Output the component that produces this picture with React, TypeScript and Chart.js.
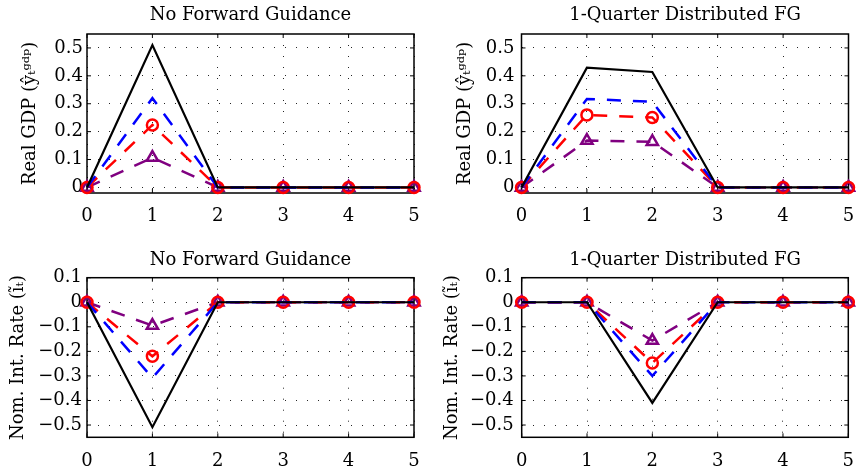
import React, { useEffect, useRef } from "react";
import { Chart, registerables } from "chart.js";

Chart.register(...registerables);

// ---------- data ----------
const periods = [0, 1, 2, 3, 4, 5];
const xTicks = [0, 1, 2, 3, 4, 5];
const xTickLabels = ["0", "1", "2", "3", "4", "5"];

const gdpTicks = [0, 0.1, 0.2, 0.3, 0.4, 0.5];
const gdpTickLabels = ["0", "0.1", "0.2", "0.3", "0.4", "0.5"];
const rateTicks = [-0.5, -0.4, -0.3, -0.2, -0.1, 0, 0.1];
const rateTickLabels = ["\u22120.5", "\u22120.4", "\u22120.3", "\u22120.2", "\u22120.1", "0", "0.1"];

const titleNoFG = "No Forward Guidance";
const titleFG = "1-Quarter Distributed FG";
const gdpAxisLabel = "Real GDP (\u0177\u209C\u1D4D\u1D48\u1D56)";
const rateAxisLabel = "Nom. Int. Rate (\u0129\u209C)";

// Real GDP, no forward guidance
const gdpNoFGBlack = [0, 0.51, 0, 0, 0, 0];
const gdpNoFGBlue = [0, 0.32, 0, 0, 0, 0];
const gdpNoFGRed = [0, 0.224, 0, 0, 0, 0];
const gdpNoFGPurple = [0, 0.107, 0, 0, 0, 0];

// Real GDP, 1-quarter distributed FG
const gdpFGBlack = [0, 0.429, 0.414, 0, 0, 0];
const gdpFGBlue = [0, 0.317, 0.307, 0, 0, 0];
const gdpFGRed = [0, 0.26, 0.251, 0, 0, 0];
const gdpFGPurple = [0, 0.168, 0.164, 0, 0, 0];

// Nominal interest rate, no forward guidance
const rateNoFGBlack = [0, -0.509, 0, 0, 0, 0];
const rateNoFGBlue = [0, -0.308, 0, 0, 0, 0];
const rateNoFGRed = [0, -0.22, 0, 0, 0, 0];
const rateNoFGPurple = [0, -0.095, 0, 0, 0, 0];

// Nominal interest rate, 1-quarter distributed FG
const rateFGBlack = [0, 0, -0.41, 0, 0, 0];
const rateFGBlue = [0, 0, -0.3, 0, 0, 0];
const rateFGRed = [0, 0, -0.247, 0, 0, 0];
const rateFGPurple = [0, 0, -0.156, 0, 0, 0];

// ---------- styling ----------
const FONT_FAMILY = "'DejaVu Serif', serif";
const FONT_SIZE = 18;

const boxPlugin = {
  id: "matlabBox",
  beforeDatasetsDraw(chart: any) {
    const { ctx, chartArea: a, scales } = chart;
    ctx.save();
    ctx.setLineDash([]);
    ctx.strokeStyle = "#000";
    ctx.lineWidth = 1.5;
    ctx.strokeRect(a.left, a.top, a.right - a.left, a.bottom - a.top);
    const tl = 4;
    ctx.lineWidth = 1;
    ctx.beginPath();
    scales.x.ticks.forEach((t: any) => {
      const px = scales.x.getPixelForValue(t.value);
      ctx.moveTo(px, a.bottom);
      ctx.lineTo(px, a.bottom - tl);
      ctx.moveTo(px, a.top);
      ctx.lineTo(px, a.top + tl);
    });
    scales.y.ticks.forEach((t: any) => {
      const py = scales.y.getPixelForValue(t.value);
      ctx.moveTo(a.left, py);
      ctx.lineTo(a.left + tl, py);
      ctx.moveTo(a.right, py);
      ctx.lineTo(a.right - tl, py);
    });
    ctx.stroke();
    ctx.restore();
  },
};

type PanelProps = {
  left: number;
  top: number;
  height: number;
  plot: { left: number; top: number; right: number; bottom: number };
  titlePadTop: number;
  yTitleCenter: number;
  yTickPad: number;
  title: string;
  yLabel: string;
  yMin: number;
  yMax: number;
  yTicks: number[];
  yTickLabels: string[];
  black: number[];
  blue: number[];
  red: number[];
  purple: number[];
};

function toPoints(vals: number[]) {
  return periods.map((p, i) => ({ x: p, y: vals[i] }));
}

function Panel(props: PanelProps) {
  const ref = useRef<HTMLCanvasElement>(null);
  const { plot } = props;
  // canvas wide enough that the full-width title is centred over the plot area
  const width = Math.round(plot.left + plot.right);
  useEffect(() => {
    const font = { family: FONT_FAMILY, size: FONT_SIZE, weight: "normal" as const };
    const lineH = FONT_SIZE * 1.2;
    const xh = props.height - plot.bottom;
    const dash = [14, 12];
    const chart = new Chart(ref.current as HTMLCanvasElement, {
      type: "line",
      data: {
        datasets: [
          {
            data: toPoints(props.black),
            borderColor: "#000000",
            borderWidth: 2.2,
            pointRadius: 0,
            clip: false as any,
          },
          {
            data: toPoints(props.blue),
            borderColor: "#0000ff",
            borderWidth: 2.5,
            borderDash: dash,
            pointRadius: 0,
            clip: false as any,
          },
          {
            data: toPoints(props.red),
            borderColor: "#ff0000",
            borderWidth: 2.5,
            borderDash: dash,
            pointStyle: "circle",
            pointRadius: 5.5,
            pointBorderWidth: 2.5,
            pointBorderColor: "#ff0000",
            pointBackgroundColor: "rgba(0,0,0,0)",
            clip: false as any,
          },
          {
            data: toPoints(props.purple),
            borderColor: "#800080",
            borderWidth: 2.5,
            borderDash: dash,
            pointStyle: "triangle",
            pointRadius: 6.5,
            pointBorderWidth: 2.5,
            pointBorderColor: "#800080",
            pointBackgroundColor: "rgba(0,0,0,0)",
            clip: false as any,
          },
        ],
      },
      options: {
        responsive: false,
        animation: false,
        events: [],
        layout: {
          padding: { left: 0, right: 0, top: 0, bottom: 0 },
        },
        plugins: {
          legend: { display: false },
          tooltip: { enabled: false },
          title: {
            display: true,
            text: props.title,
            color: "#000",
            font,
            padding: {
              top: props.titlePadTop,
              bottom: plot.top - lineH - props.titlePadTop,
            },
          },
        },
        scales: {
          x: {
            type: "linear",
            min: 0,
            max: 5,
            afterBuildTicks: (s: any) => {
              s.ticks = xTicks.map((v) => ({ value: v }));
            },
            afterFit: (s: any) => {
              s.height = xh;
            },
            ticks: {
              color: "#000",
              font,
              padding: 13,
              maxRotation: 0,
              autoSkip: false,
              callback: (v: any) => xTickLabels[xTicks.indexOf(Number(v))] ?? "",
            },
            grid: { color: "rgba(0,0,0,0.85)", lineWidth: 1, drawTicks: false },
            border: { display: false, dash: [1, 10] },
          },
          y: {
            type: "linear",
            position: "left",
            min: props.yMin,
            max: props.yMax,
            afterBuildTicks: (s: any) => {
              s.ticks = props.yTicks.map((v) => ({ value: v }));
            },
            afterFit: (s: any) => {
              s.width = plot.left;
            },
            title: {
              display: true,
              text: props.yLabel,
              color: "#000",
              font,
              padding: { top: props.yTitleCenter - lineH / 2, bottom: 0 },
            },
            ticks: {
              color: "#000",
              font,
              padding: props.yTickPad,
              autoSkip: false,
              callback: (v: any) => {
                const i = props.yTicks.findIndex((t) => Math.abs(t - Number(v)) < 1e-9);
                return i >= 0 ? props.yTickLabels[i] : "";
              },
            },
            grid: { color: "rgba(0,0,0,0.85)", lineWidth: 1, drawTicks: false },
            border: { display: false, dash: [1, 10] },
          },
          // empty spacer on the right so the plot area sits where it should
          spacer: {
            type: "linear",
            position: "right",
            min: props.yMin,
            max: props.yMax,
            afterFit: (s: any) => {
              s.width = width - plot.right;
            },
            ticks: { display: false },
            grid: { display: false, drawTicks: false },
            border: { display: false },
          },
        },
      } as any,
      plugins: [boxPlugin],
    });
    return () => chart.destroy();
  }, []);
  return (
    <canvas
      ref={ref}
      width={width}
      height={props.height}
      style={{
        position: "absolute",
        left: props.left,
        top: props.top,
        width: width,
        height: props.height,
      }}
    />
  );
}

export default function App() {
  return (
    <div
      style={{
        position: "absolute",
        left: 0,
        top: 0,
        width: 856,
        height: 467,
        background: "#fff",
        overflow: "hidden",
      }}
    >
      <Panel
        left={0}
        top={0}
        height={233}
        plot={{ left: 87, top: 34, right: 414, bottom: 193 }}
        titlePadTop={5}
        yTitleCenter={30}
        yTickPad={4}
        title={titleNoFG}
        yLabel={gdpAxisLabel}
        yMin={-0.02}
        yMax={0.55}
        yTicks={gdpTicks}
        yTickLabels={gdpTickLabels}
        black={gdpNoFGBlack}
        blue={gdpNoFGBlue}
        red={gdpNoFGRed}
        purple={gdpNoFGPurple}
      />
      <Panel
        left={434}
        top={0}
        height={233}
        plot={{ left: 87.5, top: 34, right: 414.5, bottom: 193 }}
        titlePadTop={5}
        yTitleCenter={31}
        yTickPad={7}
        title={titleFG}
        yLabel={gdpAxisLabel}
        yMin={-0.02}
        yMax={0.55}
        yTicks={gdpTicks}
        yTickLabels={gdpTickLabels}
        black={gdpFGBlack}
        blue={gdpFGBlue}
        red={gdpFGRed}
        purple={gdpFGPurple}
      />
      <Panel
        left={0}
        top={233}
        height={234}
        plot={{ left: 87, top: 44.7, right: 414, bottom: 204.3 }}
        titlePadTop={16.5}
        yTitleCenter={18}
        yTickPad={5}
        title={titleNoFG}
        yLabel={rateAxisLabel}
        yMin={-0.55}
        yMax={0.1}
        yTicks={rateTicks}
        yTickLabels={rateTickLabels}
        black={rateNoFGBlack}
        blue={rateNoFGBlue}
        red={rateNoFGRed}
        purple={rateNoFGPurple}
      />
      <Panel
        left={434}
        top={233}
        height={234}
        plot={{ left: 87.7, top: 44.7, right: 414.3, bottom: 204.3 }}
        titlePadTop={16.5}
        yTitleCenter={18}
        yTickPad={8}
        title={titleFG}
        yLabel={rateAxisLabel}
        yMin={-0.55}
        yMax={0.1}
        yTicks={rateTicks}
        yTickLabels={rateTickLabels}
        black={rateFGBlack}
        blue={rateFGBlue}
        red={rateFGRed}
        purple={rateFGPurple}
      />
    </div>
  );
}
